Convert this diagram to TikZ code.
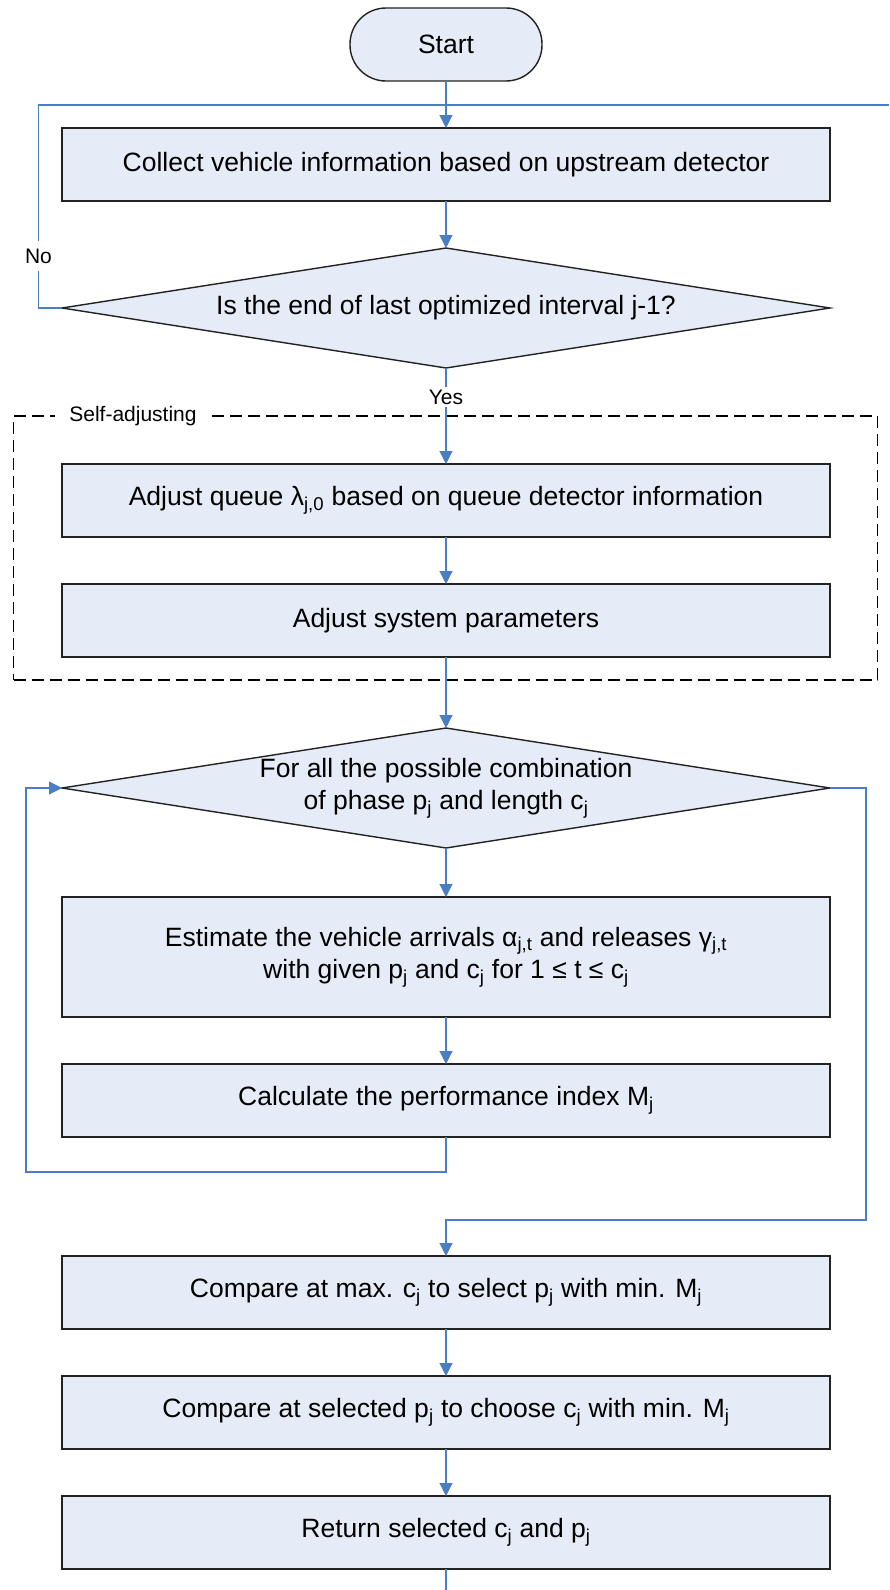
\documentclass[tikz,border=0pt]{standalone}
\usepackage{fontspec}
\setmainfont{Liberation Sans}
\usetikzlibrary{arrows.meta,shapes.geometric}

\definecolor{boxfill}{RGB}{230,236,247}
\definecolor{flowblue}{RGB}{74,126,196}
\definecolor{boxline}{RGB}{34,34,34}

\tikzset{
  stepbox/.style={draw=boxline, line width=1.4pt, fill=boxfill, rectangle,
    minimum width=768pt, minimum height=73pt, inner sep=0pt, outer sep=0pt,
    align=center, font=\fontsize{26.5}{32.5}\selectfont},
  termbox/.style={draw=boxline, line width=1.4pt, fill=boxfill, rectangle,
    rounded corners=36pt, minimum width=192pt, minimum height=73pt,
    inner sep=0pt, outer sep=0pt, font=\fontsize{26.5}{32.5}\selectfont},
  decision/.style={draw=boxline, line width=1.4pt, fill=boxfill, diamond,
    aspect=6.4, minimum width=768pt, minimum height=120pt, inner sep=0pt,
    outer sep=0pt, align=center, font=\fontsize{26.5}{32.5}\selectfont},
  groupframe/.style={draw=black, line width=1.8pt, dash pattern=on 12pt off 6pt,
    rectangle, minimum width=864pt, minimum height=264pt, inner sep=0pt},
  tag/.style={fill=white, inner xsep=6pt, inner ysep=3pt,
    font=\fontsize{21}{25}\selectfont},
  flowline/.style={draw=flowblue, line width=1.1pt},
  flowarrow/.style={flowline, -{Triangle[length=13pt,width=13pt]}},
}

\newcommand{\sbs}[1]{\textsubscript{#1}}

\begin{document}
\begin{tikzpicture}[x=1pt,y=-1pt]
  \useasboundingbox (0,0) rectangle (889,1590);

  % main column of steps
  \node[termbox] (start) at (446,44.5) {Start};
  \node[stepbox] (collect) at (446,164.5) {Collect vehicle information based on upstream detector};
  \node[decision] (endint) at (446,308) {Is the end of last optimized interval j-1?};

  % self-adjusting group
  \node[groupframe] (grp) at (445.5,548) {};
  \node[stepbox] (queue) at (446,500.5) {Adjust queue λ\sbs{j,0} based on queue detector information};
  \node[stepbox] (params) at (446,620.5) {Adjust system parameters};

  % enumeration loop
  \node[decision] (combo) at (446,788) {For all the possible combination\\of phase p\sbs{j} and length c\sbs{j}};
  \node[stepbox, minimum height=120pt] (estim) at (446,957)
    {Estimate the vehicle arrivals α\sbs{j,t} and releases γ\sbs{j,t}\\with given p\sbs{j} and c\sbs{j} for 1 ≤ t ≤ c\sbs{j}};
  \node[stepbox] (perf) at (446,1100.5) {Calculate the performance index M\sbs{j}};

  % final selection
  \node[stepbox] (cmpmax) at (446,1292.5) {Compare at max. c\sbs{j} to select p\sbs{j} with min. M\sbs{j}};
  \node[stepbox] (cmpsel) at (446,1412.5) {Compare at selected p\sbs{j} to choose c\sbs{j} with min. M\sbs{j}};
  \node[stepbox] (ret) at (446,1532.5) {Return selected c\sbs{j} and p\sbs{j}};

  % routing points
  \coordinate (join) at (446,105);
  \coordinate (noturn) at (38.5,105);
  \coordinate (rightend) at (889,105);
  \coordinate (loopturn) at (26,1172);
  \coordinate (exitturn) at (866,1220);
  \coordinate (bottomend) at (446,1590);

  % connectors
  \draw[flowarrow] (start.south) -- (collect.north);
  \draw[flowline] (endint.west) -| (noturn) -- (join);
  \draw[flowline] (join) -- (rightend);
  \draw[flowarrow] (collect.south) -- (endint.north);
  \draw[flowarrow] (endint.south) -- (queue.north);
  \draw[flowarrow] (queue.south) -- (params.north);
  \draw[flowarrow] (params.south) -- (combo.north);
  \draw[flowarrow] (combo.south) -- (estim.north);
  \draw[flowarrow] (estim.south) -- (perf.north);
  \draw[flowarrow] (perf.south) |- (loopturn) |- (combo.west);
  \draw[flowarrow] (combo.east) -| (exitturn) -| (cmpmax.north);
  \draw[flowarrow] (cmpmax.south) -- (cmpsel.north);
  \draw[flowarrow] (cmpsel.south) -- (ret.north);
  \draw[flowline] (ret.south) -- (bottomend);

  % labels
  \node[tag, inner ysep=8pt] (nolab) at (38.5,256) {No};
  \node[tag] (yeslab) at (446,397) {Yes};
  \node[tag, inner xsep=14pt] (grplab) at (133,416) {Self-adjusting};
\end{tikzpicture}
\end{document}
